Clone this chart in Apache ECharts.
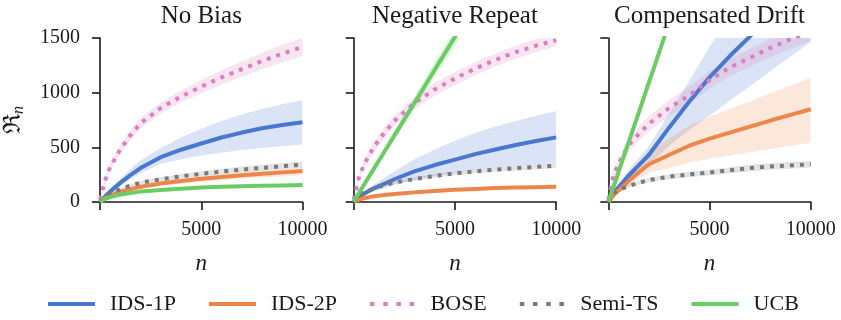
<!DOCTYPE html>
<html>
<head>
<meta charset="utf-8">
<script src="https://cdn.jsdelivr.net/npm/echarts@6/dist/echarts.min.js"></script>
<style>
  html, body { margin: 0; padding: 0; background: #fff; }
  #chart { width: 841px; height: 320px; }
</style>
</head>
<body>
<div id="chart"></div>
<script>
// Sample positions (n) shared by every curve
const N = [0, 250, 500, 1000, 1500, 2000, 3000, 4000, 5000, 6000, 7000, 8000, 9000, 10000];

const METHODS = ['IDS-1P', 'IDS-2P', 'BOSE', 'Semi-TS', 'UCB'];
const PANEL_TITLES = ['No Bias', 'Negative Repeat', 'Compensated Drift'];
const X_TICKS = [5000, 10000];
const Y_TICKS = [0, 500, 1000, 1500];

// ---- No Bias ----
const nb_ids1p    = [0, 50, 95, 175, 245, 310, 410, 478, 535, 590, 635, 675, 705, 730];
const nb_ids1p_lo = [0, 40, 80, 145, 205, 260, 350, 390, 425, 450, 475, 495, 510, 525];
const nb_ids1p_hi = [0, 60, 115, 215, 300, 380, 495, 590, 670, 740, 800, 850, 895, 930];
const nb_ids2p    = [0, 35, 58, 95, 118, 140, 170, 193, 212, 229, 244, 258, 271, 284];
const nb_ids2p_lo = [0, 30, 50, 83, 103, 122, 148, 168, 184, 199, 212, 224, 236, 247];
const nb_ids2p_hi = [0, 38, 63, 104, 129, 153, 185, 210, 231, 250, 266, 281, 295, 310];
const nb_bose     = [20, 195, 320, 480, 610, 720, 860, 965, 1055, 1140, 1215, 1290, 1355, 1420];
const nb_bose_lo  = [0, 170, 285, 440, 565, 670, 810, 910, 995, 1075, 1145, 1215, 1275, 1335];
const nb_bose_hi  = [40, 220, 355, 520, 655, 770, 910, 1020, 1115, 1205, 1285, 1365, 1435, 1505];
const nb_semits    = [0, 45, 72, 118, 150, 176, 208, 235, 258, 278, 296, 312, 327, 341];
const nb_semits_lo = [0, 40, 65, 107, 136, 160, 189, 213, 234, 252, 268, 283, 297, 312];
const nb_semits_hi = [0, 50, 79, 129, 164, 192, 227, 257, 282, 304, 324, 341, 357, 370];
const nb_ucb    = [0, 28, 45, 68, 83, 95, 110, 122, 132, 139, 145, 149, 152, 155];
const nb_ucb_lo = [0, 24, 40, 61, 75, 87, 101, 112, 122, 128, 134, 138, 141, 144];
const nb_ucb_hi = [0, 32, 50, 75, 91, 103, 119, 132, 142, 150, 156, 160, 163, 166];

// ---- Negative Repeat ----
const nr_ids1p    = [0, 45, 75, 125, 165, 208, 280, 338, 388, 438, 480, 522, 558, 591];
const nr_ids1p_lo = [0, 35, 58, 95, 125, 155, 200, 240, 270, 295, 315, 330, 343, 354];
const nr_ids1p_hi = [0, 55, 95, 160, 220, 280, 390, 480, 560, 630, 690, 740, 790, 832];
const nr_ids2p    = [0, 20, 35, 52, 63, 73, 88, 100, 112, 120, 127, 132, 136, 140];
const nr_ids2p_lo = [0, 16, 30, 46, 56, 66, 80, 91, 102, 110, 116, 121, 125, 129];
const nr_ids2p_hi = [0, 24, 40, 58, 70, 80, 96, 109, 122, 130, 138, 143, 147, 151];
const nr_bose     = [20, 215, 340, 505, 630, 740, 905, 1030, 1130, 1220, 1300, 1370, 1430, 1480];
const nr_bose_lo  = [0, 185, 300, 460, 580, 690, 850, 970, 1070, 1160, 1240, 1310, 1370, 1425];
const nr_bose_hi  = [40, 245, 380, 550, 680, 790, 960, 1090, 1190, 1280, 1360, 1430, 1490, 1535];
const nr_semits    = [0, 55, 85, 122, 155, 178, 210, 238, 262, 280, 296, 309, 321, 332];
const nr_semits_lo = [0, 50, 78, 113, 144, 166, 196, 222, 245, 262, 277, 289, 300, 311];
const nr_semits_hi = [0, 60, 92, 131, 166, 190, 224, 254, 279, 298, 315, 329, 342, 353];
const nr_ucb    = [0, 80, 155, 305, 455, 605, 905, 1210, 1510, 1815, 2115, 2420, 2720, 3020];
const nr_ucb_lo = [0, 72, 143, 285, 428, 570, 855, 1140, 1425, 1710, 1995, 2280, 2565, 2850];
const nr_ucb_hi = [0, 88, 167, 325, 482, 640, 955, 1280, 1595, 1920, 2235, 2560, 2875, 3190];

// ---- Compensated Drift ----
const cd_ids1p    = [0, 75, 135, 240, 335, 430, 680, 920, 1140, 1335, 1515, 1695, 1870, 2040];
const cd_ids1p_lo = [0, 65, 110, 190, 270, 340, 510, 660, 790, 925, 1060, 1195, 1330, 1466];
const cd_ids1p_hi = [0, 85, 160, 290, 400, 510, 810, 1110, 1420, 1700, 1980, 2250, 2500, 2750];
const cd_ids2p    = [0, 60, 105, 190, 270, 345, 430, 515, 580, 635, 690, 745, 797, 848];
const cd_ids2p_lo = [0, 45, 80, 145, 210, 265, 310, 360, 395, 425, 455, 485, 515, 543];
const cd_ids2p_hi = [0, 75, 135, 250, 360, 455, 580, 700, 780, 850, 920, 995, 1065, 1137];
const cd_bose     = [20, 240, 350, 520, 620, 715, 860, 975, 1115, 1230, 1320, 1410, 1490, 1560];
const cd_bose_lo  = [0, 200, 300, 460, 555, 645, 785, 895, 1035, 1150, 1240, 1325, 1400, 1470];
const cd_bose_hi  = [40, 280, 400, 580, 685, 785, 935, 1055, 1195, 1310, 1400, 1495, 1580, 1650];
const cd_semits    = [0, 80, 108, 145, 175, 200, 232, 252, 270, 290, 310, 325, 335, 345];
const cd_semits_lo = [0, 70, 96, 130, 157, 180, 209, 227, 244, 262, 280, 294, 303, 315];
const cd_semits_hi = [0, 90, 120, 160, 193, 220, 255, 277, 296, 318, 340, 356, 367, 375];
const cd_ucb    = [0, 135, 270, 545, 815, 1090, 1635, 2180, 2725, 3270, 3815, 4360, 4905, 5450];
const cd_ucb_lo = [0, 130, 262, 530, 795, 1065, 1600, 2135, 2670, 3205, 3740, 4275, 4810, 5340];
const cd_ucb_hi = [0, 140, 278, 560, 835, 1115, 1670, 2225, 2780, 3335, 3890, 4445, 5000, 5560];

const PANELS = [
  [[nb_ids1p, nb_ids1p_lo, nb_ids1p_hi], [nb_ids2p, nb_ids2p_lo, nb_ids2p_hi], [nb_bose, nb_bose_lo, nb_bose_hi], [nb_semits, nb_semits_lo, nb_semits_hi], [nb_ucb, nb_ucb_lo, nb_ucb_hi]],
  [[nr_ids1p, nr_ids1p_lo, nr_ids1p_hi], [nr_ids2p, nr_ids2p_lo, nr_ids2p_hi], [nr_bose, nr_bose_lo, nr_bose_hi], [nr_semits, nr_semits_lo, nr_semits_hi], [nr_ucb, nr_ucb_lo, nr_ucb_hi]],
  [[cd_ids1p, cd_ids1p_lo, cd_ids1p_hi], [cd_ids2p, cd_ids2p_lo, cd_ids2p_hi], [cd_bose, cd_bose_lo, cd_bose_hi], [cd_semits, cd_semits_lo, cd_semits_hi], [cd_ucb, cd_ucb_lo, cd_ucb_hi]]
];

// Styling
const COLORS = ['#4878d0', '#ee854a', '#dc7ec0', '#797979', '#6acc64'];
const DOTTED = [false, false, true, true, false];
const SERIF = '"Liberation Serif", "Times New Roman", serif';
const INK = '#1a1a1a';
const GRID_LEFT = [100, 353.7, 608.3];
const GRID_W = 202.5;
const GRID_TOP = 38;
const GRID_H = 164;
const LW = 4;

// legend swatches: a solid bar, or a row of square dots
const ICON_SOLID = 'path://M0,0h47v4h-47z';
const ICON_DOTS = 'path://M0,0h4.5v4h-4.5z M13.2,0h4.5v4h-4.5z M26.4,0h4.5v4h-4.5z M39.6,0h4.5v4h-4.5z';

const pairs = ys => N.map((n, i) => [n, ys[i]]);

// Filled region between lo and hi, mapped through the panel's axes
function bandRenderer(lo, hi, color) {
  return function (params, api) {
    const pts = [];
    for (let i = 0; i < N.length; i++) pts.push(api.coord([N[i], hi[i]]));
    for (let i = N.length - 1; i >= 0; i--) pts.push(api.coord([N[i], lo[i]]));
    const cs = params.coordSys;
    return {
      type: 'polygon',
      shape: { points: pts },
      style: { fill: color, opacity: 0.2 },
      silent: true,
      clipPath: { type: 'rect', shape: { x: cs.x, y: cs.y, width: cs.width, height: cs.height } }
    };
  };
}

const grids = [], xAxes = [], yAxes = [], titles = [], series = [];

PANEL_TITLES.forEach((t, p) => {
  grids.push({ left: GRID_LEFT[p], top: GRID_TOP, width: GRID_W, height: GRID_H });
  titles.push({
    text: t, left: GRID_LEFT[p] + GRID_W / 2 - 5, top: -1, textAlign: 'center',
    textStyle: { fontFamily: SERIF, fontSize: 25, fontWeight: 'normal', color: INK }
  });
  xAxes.push({
    type: 'value', gridIndex: p, min: 0, max: 10000, interval: 5000,
    axisLine: { show: true, lineStyle: { color: INK, width: 1.6 } },
    axisTick: { show: true, inside: false, length: 8, lineStyle: { color: INK, width: 1.6 } },
    axisLabel: {
      show: true, margin: 18, fontFamily: SERIF, fontSize: 20, color: INK,
      formatter: v => (X_TICKS.indexOf(v) >= 0 ? String(v) : '')
    },
    splitLine: { show: false },
    name: 'n', nameLocation: 'middle', nameGap: 50,
    nameTextStyle: { fontFamily: SERIF, fontSize: 23, fontStyle: 'italic', color: INK }
  });
  const y = {
    type: 'value', gridIndex: p, min: 0, max: 1500, interval: 500,
    axisLine: { show: true, lineStyle: { color: INK, width: 1.6 } },
    axisTick: { show: true, inside: false, length: 8, lineStyle: { color: INK, width: 1.6 } },
    axisLabel: {
      show: p === 0, margin: 20, fontFamily: SERIF, fontSize: 20, color: INK,
      formatter: v => (Y_TICKS.indexOf(v) >= 0 ? String(v) : '')
    },
    splitLine: { show: false }
  };
  if (p === 0) {
    y.name = '{r|ℜ}{s|n}';
    y.nameLocation = 'middle';
    y.nameGap = 72;
    y.nameTextStyle = {
      color: INK,
      rich: {
        r: { fontFamily: '"DejaVu Serif", serif', fontSize: 24, color: INK, lineHeight: 28 },
        s: { fontFamily: SERIF, fontSize: 16, fontStyle: 'italic', color: INK, lineHeight: 28, padding: [10, 0, 0, 0] }
      }
    };
  }
  yAxes.push(y);

  // confidence bands first, so every line sits above them
  PANELS[p].forEach((triple, s) => {
    series.push({
      type: 'custom', name: METHODS[s] + ' band', xAxisIndex: p, yAxisIndex: p,
      data: [[0, 0]], encode: { x: 0, y: 1 }, silent: true, z: 1,
      renderItem: bandRenderer(triple[1], triple[2], COLORS[s])
    });
  });
  PANELS[p].forEach((triple, s) => {
    series.push({
      type: 'line', name: METHODS[s], xAxisIndex: p, yAxisIndex: p,
      data: pairs(triple[0]), symbol: 'none', showSymbol: false, clip: true,
      lineStyle: {
        color: COLORS[s], width: LW,
        type: DOTTED[s] ? [4, 6] : 'solid', cap: 'butt'
      },
      itemStyle: { color: COLORS[s] },
      z: 2 + s
    });
  });
});

const chart = echarts.init(document.getElementById('chart'), null, { renderer: 'canvas' });
chart.setOption({
  animation: false,
  backgroundColor: '#fff',
  title: titles,
  grid: grids,
  xAxis: xAxes,
  yAxis: yAxes,
  legend: {
    data: METHODS.map((m, i) => ({ name: m, icon: DOTTED[i] ? ICON_DOTS : ICON_SOLID })),
    left: 48, top: 293, padding: 0, orient: 'horizontal',
    itemWidth: 47, itemHeight: 4, itemGap: 33,
    textStyle: { fontFamily: SERIF, fontSize: 22, color: INK, padding: [0, 0, 0, 10] }
  },
  series: series
});
</script>
</body>
</html>
